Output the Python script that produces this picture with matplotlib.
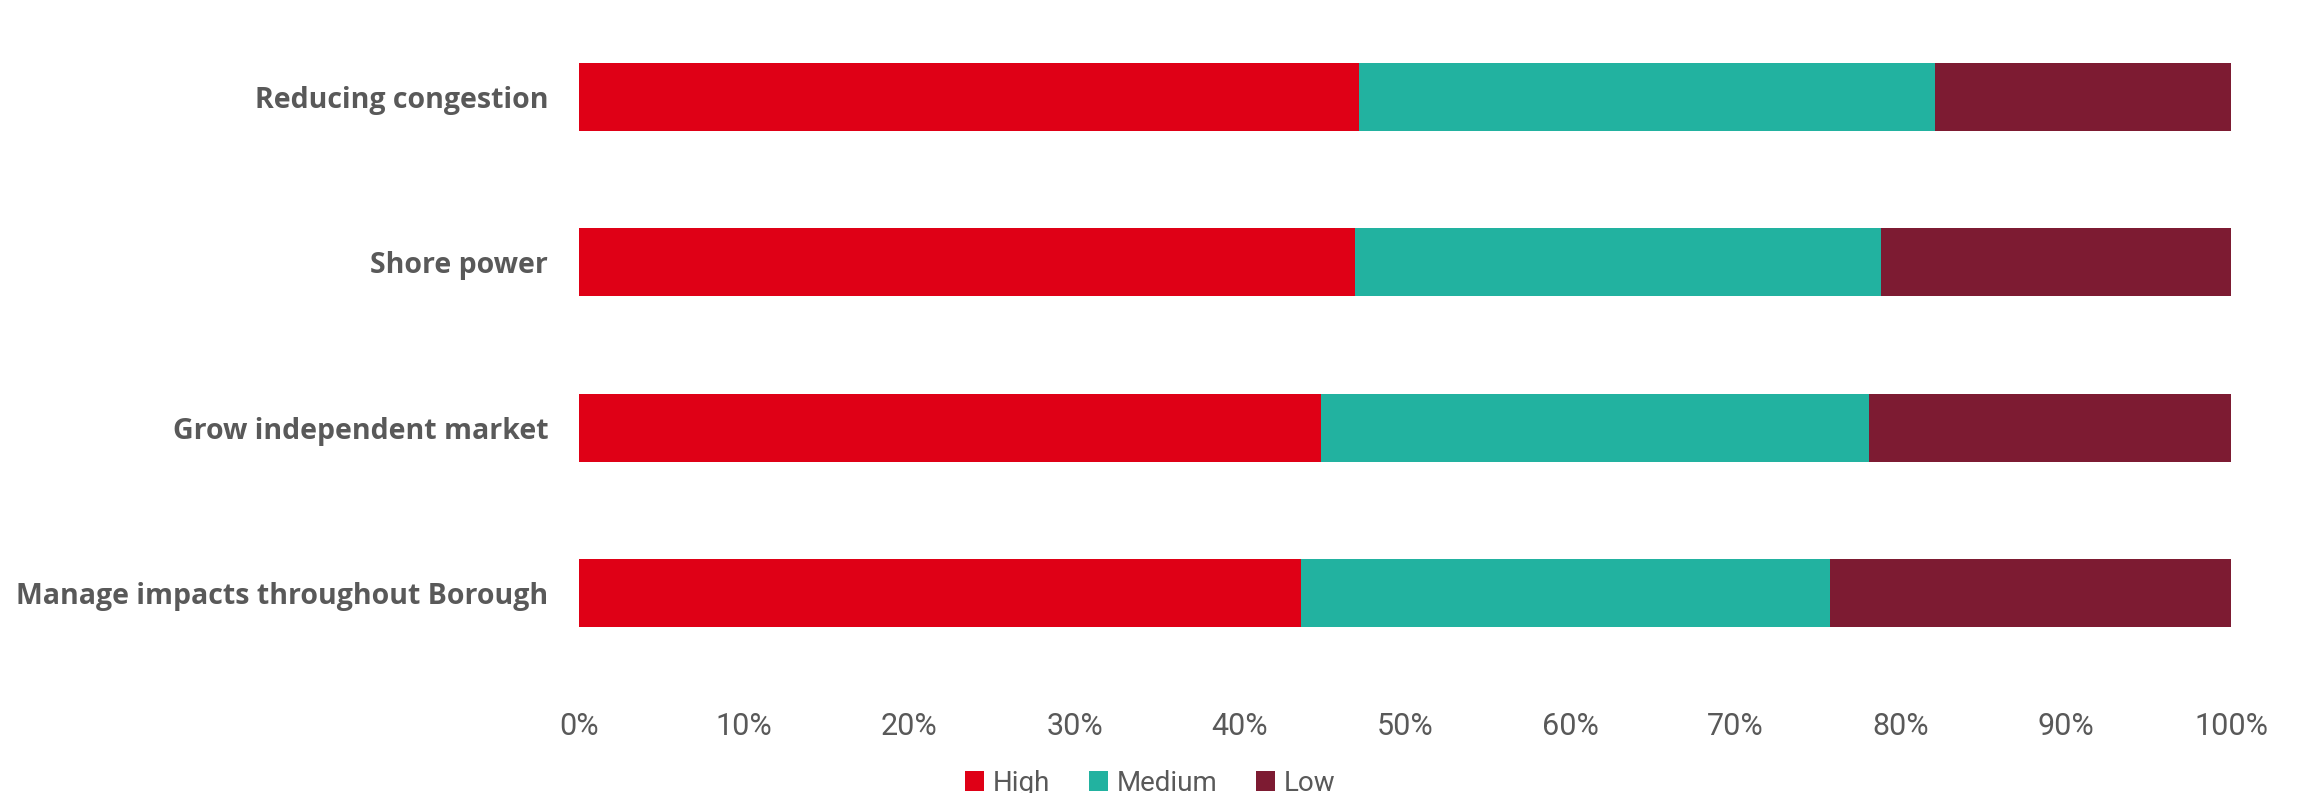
import numpy as np
import matplotlib
matplotlib.use("Agg")
import matplotlib.pyplot as plt
from matplotlib.ticker import PercentFormatter

# data (percent of responses)
categorias = ["Reducing congestion", "Shore power", "Grow independent market",
              "Manage impacts throughout Borough"]
high = [47.2, 47.0, 44.9, 43.7]
medium = [34.9, 31.8, 33.2, 32.0]
low = [17.9, 21.2, 21.9, 24.3]
series = ["High", "Medium", "Low"]
colores = ["#DF0016", "#22B2A0", "#7D1B32"]

fig = plt.figure(figsize=(23, 7.93), dpi=100)
ax = fig.add_axes([0.2517, 0.1475, 0.7183, 0.835])

y = np.arange(len(categorias))
izq = np.zeros(len(categorias))
for nombre, valores, color in zip(series, [high, medium, low], colores):
    ax.barh(y, valores, left=izq, height=0.41, color=color, label=nombre)
    izq += np.array(valores)

ax.set_ylim(len(categorias) - 0.5, -0.5)
ax.set_xlim(0, 100)
ax.set_yticks(y)
ax.set_yticklabels(categorias, fontsize=20.5, fontweight="bold", color="#595959",
                   family=["Open Sans", "DejaVu Sans"])
ax.set_xticks(np.arange(0, 101, 10))
ax.xaxis.set_major_formatter(PercentFormatter(decimals=0))
for t in ax.get_xticklabels():
    t.set_fontsize(22)
    t.set_color("#595959")
    t.set_family(["Roboto", "DejaVu Sans"])
ax.tick_params(axis="both", length=0)
ax.tick_params(axis="x", pad=26)
ax.tick_params(axis="y", pad=22)
for s in ax.spines.values():
    s.set_visible(False)

fig.legend(loc="lower center", bbox_to_anchor=(0.5, -0.036), ncol=3, frameon=False,
           prop={"family": ["Roboto", "DejaVu Sans"], "size": 20},
           labelcolor="#595959", handlelength=0.7, handleheight=0.7,
           handletextpad=0.3, columnspacing=1.4)

fig.savefig("out.png", dpi=100, facecolor="white")
